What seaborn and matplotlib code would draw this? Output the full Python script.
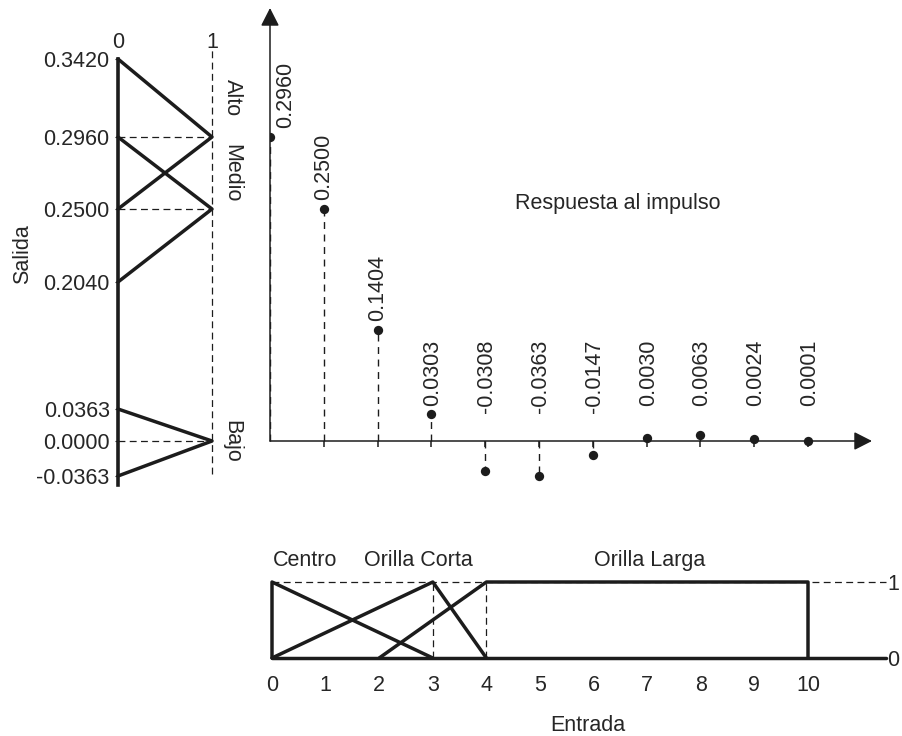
import numpy as np
import matplotlib
matplotlib.use("Agg")
import matplotlib.pyplot as plt
import seaborn as sns

sns.set_style("white")
plt.rcParams["font.family"] = ["Liberation Sans", "DejaVu Sans"]

# ---------------- data ----------------
# output (Salida) membership levels
out_levels = [-0.0363, 0.0000, 0.0363, 0.2040, 0.2500, 0.2960, 0.3420]
memb_x = [0, 1, 0]
alto_y = [0.3420, 0.2960, 0.2500]
medio_y = [0.2960, 0.2500, 0.2040]
bajo_y = [0.0363, 0.0000, -0.0363]
out_names = ["Alto", "Medio", "Bajo"]
out_name_y = [0.319, 0.273, 0.0]

# impulse response
lags = list(range(11))
resp = [0.2960, 0.2500, 0.1404, 0.0303, -0.0308, -0.0363, -0.0147,
        0.0030, 0.0063, 0.0024, 0.0001]

# input (Entrada) membership functions
in_ticks = list(range(11))
centro_x = [0, 0, 3]
centro_y = [0, 1, 0]
corta_x = [0, 3, 4]
corta_y = [0, 1, 0]
larga_x = [2, 4, 10, 10]
larga_y = [0, 1, 1, 0]
in_names = ["Centro", "Orilla Corta", "Orilla Larga"]
in_name_x = [0.62, 2.74, 7.05]

# ------------- schematic piecewise-linear output scale -------------
scale_knots = [-35, 0, 32, 159, 232, 304, 382]   # drawing height of each level


def _pw(x, xs, ys):
    xs = np.asarray(xs, float)
    ys = np.asarray(ys, float)
    x = np.asarray(x, dtype=float)
    y = np.interp(x, xs, ys)
    lo = (ys[1] - ys[0]) / (xs[1] - xs[0])
    hi = (ys[-1] - ys[-2]) / (xs[-1] - xs[-2])
    y = np.where(x < xs[0], ys[0] + (x - xs[0]) * lo, y)
    y = np.where(x > xs[-1], ys[-1] + (x - xs[-1]) * hi, y)
    return y


def fwd(v):
    return _pw(v, out_levels, scale_knots)


def inv(p):
    return _pw(p, scale_knots, out_levels)


INK = "#1c1c1c"
TXT = "#262626"
FS = 15.5
DASH = (0, (5.5, 3.5))

W, H = 902, 736
fig = plt.figure(figsize=(W / 100, H / 100), dpi=100)


def box(l, r, t, b):
    return [l / W, 1 - b / H, (r - l) / W, (b - t) / H]


ZERO = 441
axL = fig.add_axes(box(118, 212, 50, 485))
axS = fig.add_axes(box(270, 872, 8, 490))
axB = fig.add_axes(box(272, 886, 582, 658))
for ax in (axL, axS, axB):
    ax.patch.set_alpha(0)

# ---------------- left panel: Salida ----------------
axL.set_yscale("function", functions=(fwd, inv))
for ys in (alto_y, medio_y, bajo_y):
    sns.lineplot(x=memb_x, y=ys, sort=False, estimator=None, ax=axL,
                 color=INK, lw=2.5)
axL.hlines([0.2960, 0.2500, 0.0], 0, 1, colors=INK, lw=0.9, linestyles=DASH)
axL.axvline(1, ymin=0.025, ymax=1, color=INK, lw=0.9, ls=DASH)
for art in axL.lines + axL.collections:
    art.set_clip_on(False)
ylo = float(inv(ZERO - 485))
yhi = float(inv(ZERO - 50))
axL.set_xlim(0, 1)
axL.set_ylim(ylo, yhi)
for s in ("top", "right", "bottom"):
    axL.spines[s].set_visible(False)
axL.spines["left"].set_linewidth(2.6)
axL.spines["left"].set_color(INK)
axL.spines["left"].set_bounds(ylo, 0.3420)
axL.set_yticks(out_levels)
axL.set_yticklabels([f"{v:.4f}" for v in out_levels])
axL.yaxis.set_minor_locator(matplotlib.ticker.NullLocator())
axL.tick_params(axis="y", left=True, length=2.5, width=0.8, pad=3.5,
                labelsize=FS, labelcolor=TXT, color=INK)
axL.xaxis.tick_top()
axL.set_xticks([0, 1])
axL.set_xticklabels(["0", "1"])
axL.tick_params(axis="x", length=0, pad=-2.5, labelsize=FS, labelcolor=TXT)
axL.set_xlabel("")
axL.set_ylabel("")
for name, yv in zip(out_names, out_name_y):
    axL.text(1.213, yv, name, rotation=-90, ha="center", va="center",
             fontsize=FS, color=TXT)
axL.text(-1.01, 0.53, "Salida", rotation=90, ha="center", va="center",
         fontsize=FS, color=TXT, transform=axL.transAxes)

# ---------------- impulse response ----------------
axS.set_yscale("function", functions=(fwd, inv))
axS.vlines(lags, 0, resp, colors=INK, lw=1.0, linestyles=(0, (5, 4)))
sns.scatterplot(x=lags, y=resp, ax=axS, s=45, color=INK, linewidth=0, zorder=5)
axS.set_xlim(0, (872 - 270) / 53.8)
axS.set_ylim(float(inv(ZERO - 490)), float(inv(ZERO - 8)))
for s in axS.spines.values():
    s.set_visible(False)
axS.spines["bottom"].set_position(("data", 0))
axS.set_xticks(lags[1:])
axS.tick_params(axis="x", bottom=True, direction="out", length=4, width=1.1,
                color=INK, labelbottom=False)
axS.set_yticks([])
axS.yaxis.set_minor_locator(matplotlib.ticker.NullLocator())
axS.set_xlabel("")
axS.set_ylabel("")
arrow = dict(arrowstyle="-|>,head_length=0.55,head_width=0.28", lw=1.1,
             color=INK, mutation_scale=20, shrinkA=0, shrinkB=0)
axS.annotate("", xy=(1, 0), xycoords=axS.get_yaxis_transform(),
             xytext=(0, 0), textcoords=axS.get_yaxis_transform(),
             arrowprops=arrow)
axS.annotate("", xy=(0, 1), xycoords=axS.get_xaxis_transform(),
             xytext=(0, 0), textcoords="data", arrowprops=arrow)
row_y = (490 - 340) / (490 - 8)
for x, v in zip(lags, resp):
    lab = f"{v:.4f}"
    if abs(v) > 0.1:
        dx = 11 if x == 0 else 0
        axS.annotate(lab, xy=(x, v), xytext=(dx, 6.5), textcoords="offset points",
                     rotation=90, ha="center", va="bottom", fontsize=FS, color=TXT)
    else:
        axS.text(x + 0.03, row_y, lab, rotation=90, ha="center", va="top",
                 fontsize=FS, color=TXT, transform=axS.get_xaxis_transform())
axS.text(0.578, 0.595, "Respuesta al impulso", ha="center", va="center",
         fontsize=FS, color=TXT, transform=axS.transAxes)

# ---------------- bottom panel: Entrada ----------------
axB.axhline(1, color=INK, lw=0.9, ls=DASH)
axB.vlines([3, 4], 0, 1, colors=INK, lw=0.9, linestyles=DASH)
for xs, ys in ((centro_x, centro_y), (corta_x, corta_y), (larga_x, larga_y)):
    sns.lineplot(x=xs, y=ys, sort=False, estimator=None, ax=axB,
                 color=INK, lw=2.5)
axB.axhline(0, color=INK, lw=2.5)
for ln in axB.lines:
    ln.set_clip_on(False)
axB.set_xlim(0, (886 - 272) / 53.6)
axB.set_ylim(0, 1)
for s in axB.spines.values():
    s.set_visible(False)
axB.set_xticks(in_ticks)
axB.set_xticklabels([str(t) for t in in_ticks])
axB.tick_params(axis="x", length=0, pad=12.5, labelsize=FS, labelcolor=TXT)
axB.yaxis.tick_right()
axB.set_yticks([0, 1])
axB.set_yticklabels(["0", "1"])
axB.tick_params(axis="y", length=0, pad=1, labelsize=FS, labelcolor=TXT)
axB.set_ylabel("")
axB.set_xlabel("Entrada", fontsize=FS, color=TXT)
axB.xaxis.set_label_coords(0.515, -0.75)
for name, xv in zip(in_names, in_name_x):
    axB.text(xv, 1.21, name, ha="center", va="baseline", fontsize=FS, color=TXT)

fig.savefig("out.png", dpi=100)
